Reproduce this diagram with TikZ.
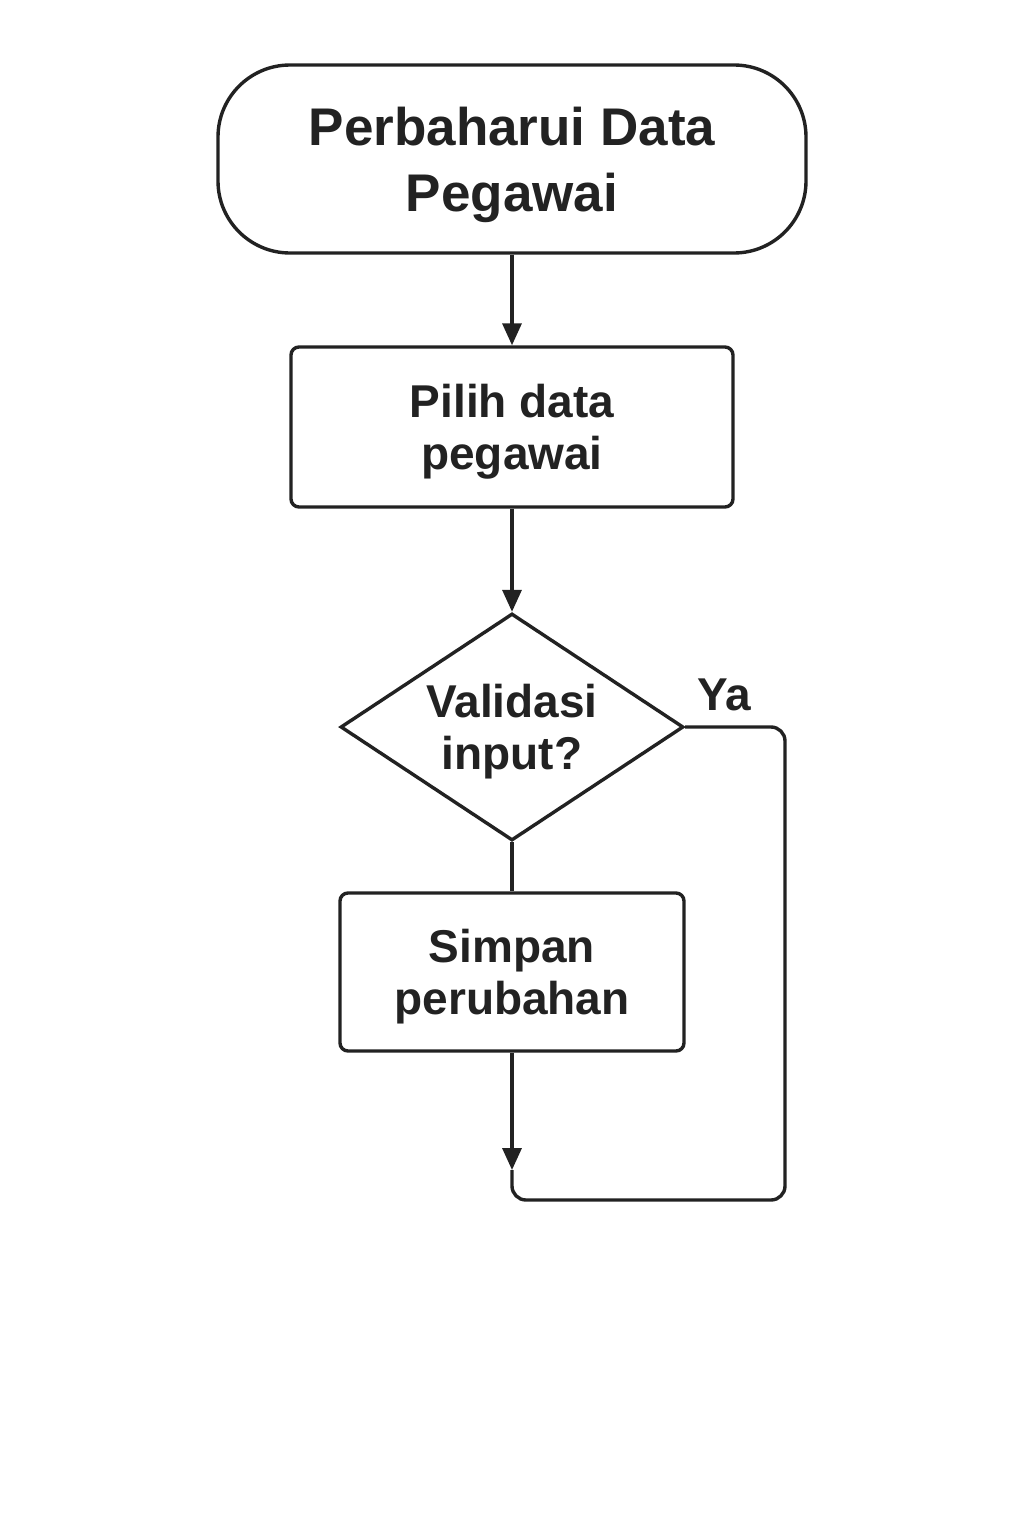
\documentclass[tikz,border=0pt]{standalone}
\usepackage{fontspec}
\setmainfont{Liberation Sans}
\usetikzlibrary{shapes.geometric,arrows.meta}
\definecolor{ink}{HTML}{222222}
\begin{document}
\begin{tikzpicture}[x=0.5pt,y=-0.5pt,
  line width=1.7pt,
  basebox/.style={draw=ink, line width=1.7pt, align=center, inner sep=0pt, text=ink, text depth=0pt,
    font=\bfseries\fontsize{23}{26}\selectfont},
  term/.style={basebox, rounded corners=36pt, minimum width=294pt, minimum height=94pt,
    font=\bfseries\fontsize{26.5}{33}\selectfont},
  procbox/.style={basebox, rounded corners=4pt},
  decis/.style={basebox, shape=diamond, aspect=1.51, minimum width=171.5pt, minimum height=113.5pt},
  lbl/.style={text=ink, inner sep=0pt, font=\bfseries\fontsize{23}{26}\selectfont},
  conn/.style={draw=ink, line width=1.7pt},
  arr/.style={conn, -{Triangle[length=11pt,width=9.5pt]}}]
  \fill[white] (0,0) rectangle (1024,1536);
  \useasboundingbox (0,0) rectangle (1024,1536);

  \node[term] (t) at (512,159) {Perbaharui Data\\Pegawai};
  \node[procbox, minimum width=221pt, minimum height=80pt] (p) at (512,427) {Pilih data\\pegawai};
  \node[decis] (v) at (512,727) {Validasi\\input?};
  \node[procbox, minimum width=172pt, minimum height=79pt] (s) at (512,972) {Simpan\\perubahan};
  \node[lbl] (ya) at (724,695) {Ya};

  \coordinate (m) at (512,1170);
  \coordinate (c1) at (785,727);
  \coordinate (c2) at (785,1200);
  \coordinate (c3) at (512,1200);

  \draw[arr] (t.south) -- (p.north);
  \draw[arr] (p.south) -- (v.north);
  \draw[conn] (v.south) -- (s.north);
  \draw[arr] (s.south) -- (m);
  \draw[conn, rounded corners=7pt] (v.east) -- (c1) -- (c2) -- (c3) -- (m);
\end{tikzpicture}
\end{document}
